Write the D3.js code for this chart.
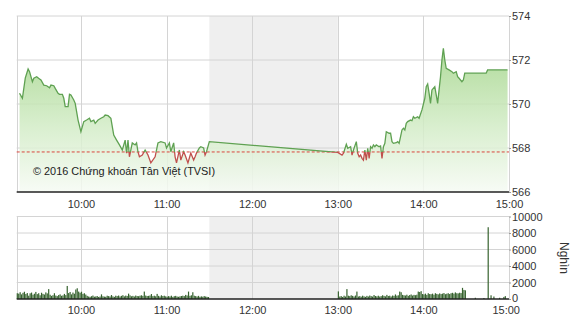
<!DOCTYPE html>
<html><head><meta charset="utf-8">
<script src="https://cdn.jsdelivr.net/npm/d3@7"></script>
<style>
body{margin:0;background:#fff;}
svg text{font-family:Arial,"Liberation Sans",sans-serif;}
</style></head>
<body><svg id="c" width="570" height="320"></svg>
<script>
// ---- data ----
const priceTimes = ["09:17","09:19","09:21","09:23","09:24","09:26","09:27","09:29","09:31","09:32","09:34","09:36","09:38","09:39","09:41","09:42","09:44","09:45","09:47","09:48","09:49","09:51","09:52","09:53","09:55","09:56","09:58","10:00","10:02","10:04","10:06","10:07","10:09","10:10","10:12","10:14","10:16","10:17","10:19","10:21","10:23","10:25","10:27","10:29","10:31","10:32","10:33","10:34","10:36","10:38","10:39","10:40","10:41","10:43","10:45","10:47","10:49","10:52","10:54","10:56","10:59","11:00","11:02","11:03","11:05","11:06","11:07","11:09","11:10","11:12","11:13","11:15","11:17","11:19","11:20","11:21","11:23","11:24","11:26","11:27","11:28","11:30",
"13:00","13:03","13:04","13:06","13:07","13:09","13:10","13:11","13:13","13:14","13:15","13:16","13:17","13:18","13:19","13:20","13:21","13:22","13:23","13:24","13:25","13:26","13:27","13:29","13:30","13:31","13:32","13:33","13:34","13:36","13:37","13:38","13:39","13:41","13:42","13:43","13:45","13:46","13:47","13:48","13:49","13:51","13:52","13:53","13:54","13:56","13:57","13:59","14:01","14:02","14:03","14:04","14:05","14:06","14:08","14:09","14:10","14:11","14:12","14:13","14:14","14:15","14:16","14:18","14:20","14:21","14:23","14:24","14:25","14:27","14:28","14:29","14:44","14:45","14:59"];
const priceValues = [570.49,570.26,571.18,571.59,571.47,571.01,571.17,571.24,571.14,571.09,570.86,570.83,570.74,570.86,570.83,570.71,570.49,570.44,570.44,570.26,569.88,569.88,570.44,570.41,570.18,570.03,569.27,568.74,569.20,569.27,569.35,569.20,569.27,569.12,569.27,569.35,569.42,569.50,569.47,569.35,568.59,568.36,568.14,567.91,568.36,567.77,568.36,567.60,568.23,568.14,568.23,567.83,567.60,567.68,567.91,567.68,567.32,567.60,568.23,568.29,568.23,568.00,568.23,567.83,568.23,567.60,567.32,567.91,567.45,567.83,567.68,567.32,567.77,567.45,567.60,567.77,568.00,568.06,568.00,567.68,567.83,568.29,
567.80,567.68,567.76,568.17,567.99,568.06,567.68,567.91,568.29,567.76,567.60,567.68,567.53,567.45,567.91,567.45,567.99,567.53,568.06,567.99,568.14,568.06,568.14,568.06,568.09,567.53,568.06,568.21,568.74,568.67,568.67,568.29,568.21,568.24,568.29,568.21,568.82,568.90,568.82,569.12,569.20,569.27,569.24,569.42,569.35,569.42,569.35,569.73,570.26,570.79,570.91,570.49,570.03,570.64,570.79,570.41,570.03,570.64,571.24,572.00,572.53,572.00,571.62,571.55,571.47,571.40,571.47,571.24,571.17,571.01,571.09,571.40,571.40,571.55,571.55];
const referenceValue = 567.82;

// volume (thousand shares) per minute
const volMorningStart = "09:15";
const volMorning = [700,650,820,560,750,880,600,720,400,690,780,520,640,860,590,700,450,760,620,540,800,680,
1200,
520,380,460,700,420,350,480,560,390,440,620,470,
1580,
720,850,560,780,640,
1150,1300,900,
760,880,620,700,540,
380,300,260,340,420,280,310,360,250,300,560,330,290,270,400,350,300,480,320,260,
400,350,420,300,380,460,320,410,370,650,440,330,380,300,420,360,340,400,450,380,900,420,360,
380,420,600,350,400,330,620,380,300,450,360,400,
320,280,350,300,400,260,340,380,300,270,320,360,
400,350,500,420,900,380,450,820,400,
350,300,380,260,320,280,350,300,260,240];
const volAfternoonStart = "13:00";
const volAfternoon = [920,300,350,250,400,300,1200,400,350,450,380,300,420,900,
300,350,280,400,320,260,380,300,420,350,300,480,360,320,400,300,350,450,380,320,500,360,400,300,420,380,550,400,450,
900,820,
500,450,420,520,380,480,550,420,500,460,520,
900,850,950,
600,550,650,500,700,600,580,650,520,700,620,560,680,600,650,720,580,640,700,600,
700,750,650,800,700,680,760,720,
1350,1100,1050];
const volLateTimes = ["14:36","14:42","14:45","14:47","14:49","14:53","14:56","14:57"];
const volLateValues = [150,120,8700,450,300,150,250,350];

const priceTicks = [566,568,570,572,574];
const volTicks = [0,2000,4000,6000,8000,10000];
const hourTicks = ["10:00","11:00","12:00","13:00","14:00","15:00"];
const sessionStart = "09:15", sessionEnd = "15:00";
const lunchStart = "11:30", lunchEnd = "13:00";
const copyright = "© 2016 Chứng khoán Tân Việt (TVSI)";
const volLabel = "Nghìn";

// ---- drawing ----
const parse = d3.timeParse("%H:%M");
const svg = d3.select("#c");
const x = d3.scaleTime().domain([parse(sessionStart), parse(sessionEnd)]).range([16.7, 509]);
const y = d3.scaleLinear().domain([566,574]).range([192,16]);
const yv = d3.scaleLinear().domain([0,10000]).range([299,216.5]);

const price = priceTimes.map((t,i)=>({t:parse(t), v:priceValues[i]}));
const vols = [];
volMorning.forEach((v,i)=>vols.push({t:d3.timeMinute.offset(parse(volMorningStart), i), v}));
volAfternoon.forEach((v,i)=>vols.push({t:d3.timeMinute.offset(parse(volAfternoonStart), i), v}));
volLateTimes.forEach((t,i)=>vols.push({t:parse(t), v:volLateValues[i]}));

const defs = svg.append("defs");
const grad = defs.append("linearGradient").attr("id","g").attr("gradientUnits","userSpaceOnUse")
  .attr("x1",0).attr("x2",0).attr("y1",y(572.5)).attr("y2",y(566));
grad.append("stop").attr("offset",0).attr("stop-color","#a3d58a");
grad.append("stop").attr("offset",0.55).attr("stop-color","#d3ecc7");
grad.append("stop").attr("offset",1).attr("stop-color","#f6fbf4");
defs.append("clipPath").attr("id","above").append("rect")
  .attr("x",0).attr("y",0).attr("width",570).attr("height",y(referenceValue));
defs.append("clipPath").attr("id","below").append("rect")
  .attr("x",0).attr("y",y(referenceValue)).attr("width",570).attr("height",200);

const gridC = "#d4d4d4";
// lunch bands
[[y(574), y(566)],[yv(10000), yv(0)]].forEach(([a,b])=>{
  svg.append("rect").attr("x",x(parse(lunchStart))).attr("y",a)
    .attr("width",x(parse(lunchEnd))-x(parse(lunchStart))).attr("height",b-a).attr("fill","#efefef");
});

// top grid
priceTicks.filter(d=>d>566).forEach(d=>{
  svg.append("line").attr("x1",x.range()[0]).attr("x2",x.range()[1]).attr("y1",y(d)).attr("y2",y(d))
    .attr("stroke",gridC);
});
// bottom grid
volTicks.filter(d=>d>0).forEach(d=>{
  svg.append("line").attr("x1",x.range()[0]).attr("x2",x.range()[1]).attr("y1",yv(d)).attr("y2",yv(d))
    .attr("stroke",gridC);
});
// vertical grids incl. frame edges
[sessionStart, ...hourTicks].forEach(t=>{
  const xx = Math.round(x(parse(t)))+0.5;
  svg.append("line").attr("x1",xx).attr("x2",xx).attr("y1",y(574)).attr("y2",y(566)).attr("stroke",gridC);
  svg.append("line").attr("x1",xx).attr("x2",xx).attr("y1",yv(10000)).attr("y2",yv(0)).attr("stroke",gridC);
});

// area
const area = d3.area().x(d=>x(d.t)).y0(y(566)).y1(d=>y(d.v));
svg.append("path").datum(price).attr("d",area).attr("fill","url(#g)").attr("fill-opacity",0.85);

// copyright
svg.append("text").attr("x",33).attr("y",175).attr("font-size",10.9).attr("fill","#222").text(copyright);

// reference dashed line
svg.append("line").attr("x1",x.range()[0]).attr("x2",x.range()[1])
  .attr("y1",y(referenceValue)).attr("y2",y(referenceValue))
  .attr("stroke","#d9463e").attr("stroke-dasharray","3,2").attr("stroke-width",1);

// price line
const line = d3.line().x(d=>x(d.t)).y(d=>y(d.v));
svg.append("path").datum(price).attr("d",line).attr("fill","none").attr("stroke","#5fa152")
  .attr("stroke-width",1.3).attr("clip-path","url(#above)");
svg.append("path").datum(price).attr("d",line).attr("fill","none").attr("stroke","#c0504d")
  .attr("stroke-width",1.3).attr("clip-path","url(#below)");

// volume bars
svg.append("g").selectAll("rect").data(vols).join("rect")
  .attr("x",d=>x(d.t)).attr("width",1.2)
  .attr("y",d=>yv(d.v)).attr("height",d=>yv(0)-yv(d.v)).attr("fill","#37632f");

// axes baselines
svg.append("line").attr("x1",x.range()[0]).attr("x2",x.range()[1]).attr("y1",y(566)).attr("y2",y(566))
  .attr("stroke","#222").attr("stroke-width",1.5);
svg.append("line").attr("x1",x.range()[0]).attr("x2",x.range()[1]).attr("y1",yv(0)).attr("y2",yv(0))
  .attr("stroke","#222").attr("stroke-width",1.5);

// right y axes
const ax1 = svg.append("g").attr("transform",`translate(${x.range()[1]},0)`)
  .call(d3.axisRight(y).tickValues(priceTicks).tickSize(2).tickPadding(1).tickFormat(d3.format("d")));
const ax2 = svg.append("g").attr("transform",`translate(${x.range()[1]},0)`)
  .call(d3.axisRight(yv).tickValues(volTicks).tickSize(2).tickPadding(1).tickFormat(d3.format("d")));
[ax1,ax2].forEach(a=>{
  a.select(".domain").remove();
  a.selectAll("line").attr("stroke","#999");
  a.selectAll("text").attr("font-size",11).attr("fill","#333").attr("font-family","Arial, Liberation Sans, sans-serif");
});
ax2.selectAll("text").filter(d=>d===0).attr("dy","0.2em");

// x axes labels
const xt = hourTicks.map(parse);
const xa1 = svg.append("g").attr("transform",`translate(0,${y(566)})`)
  .call(d3.axisBottom(x).tickValues(xt).tickSize(0).tickPadding(8).tickFormat(d3.timeFormat("%H:%M")));
const xa2 = svg.append("g").attr("transform",`translate(0,${yv(0)})`)
  .call(d3.axisBottom(x).tickValues(xt).tickSize(0).tickPadding(7).tickFormat(d3.timeFormat("%H:%M")));
[xa1,xa2].forEach(a=>{
  a.select(".domain").remove();
  a.selectAll("text").attr("font-size",11).attr("fill","#333").attr("font-family","Arial, Liberation Sans, sans-serif");
});
xa2.selectAll("text").filter((d,i)=>i===hourTicks.length-1).attr("dx","-0.3em");

svg.append("text").attr("transform","translate(560,258) rotate(90)").attr("text-anchor","middle")
  .attr("font-size",12).attr("fill","#333").text(volLabel);
</script></body></html>
